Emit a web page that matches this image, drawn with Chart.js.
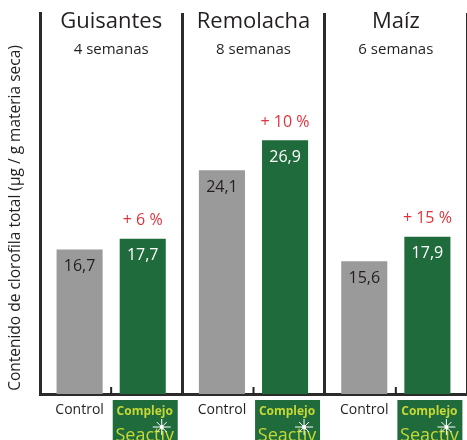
<!DOCTYPE html>
<html>
<head>
<meta charset="utf-8">
<script src="https://cdn.jsdelivr.net/npm/chart.js@4/dist/chart.umd.min.js"></script>
<style>
  html, body { margin: 0; padding: 0; background: #fff; }
  #wrap { width: 467px; height: 440px; }
</style>
</head>
<body>
<div id="wrap"><canvas id="chlorophyllChart"></canvas></div>
<script>
// datos del gráfico
const crops = ['Guisantes', 'Remolacha', 'Maíz'];
const weeks = ['4 semanas', '8 semanas', '6 semanas'];
const controlValues = [16.7, 24.1, 15.6];
const complejoValues = [17.7, 26.9, 17.9];
const gains = ['+ 6 %', '+ 10 %', '+ 15 %'];
const seriesNames = ['Control', 'Complejo Seactiv'];
const yTitle = 'Contenido de clorofila total (µg / g materia seca)';

const FONT = '"Open Sans", sans-serif';
const DARK = '#231f20';
const GREEN = '#1f6b3b';
const GREY = '#9a9a9b';

// textos, marcas y logotipo dibujados sobre las escalas de Chart.js
const decorations = {
  id: 'decorations',
  afterDatasetsDraw(chart) {
    const ctx = chart.ctx;
    const xs = chart.scales.x;
    const area = chart.chartArea;
    ctx.save();
    ctx.textAlign = 'center';
    ctx.textBaseline = 'middle';

    // nombres de cultivo y semanas
    crops.forEach((c, i) => {
      const cx = xs.getPixelForValue(i);
      ctx.fillStyle = DARK;
      ctx.font = '22px ' + FONT;
      ctx.fillText(c, cx, 22);
      ctx.font = '15px ' + FONT;
      ctx.fillText(weeks[i], cx, 50);
      // pequeña marca en el centro de cada grupo
      ctx.strokeStyle = DARK;
      ctx.lineWidth = 2;
      ctx.beginPath();
      ctx.moveTo(cx, area.bottom);
      ctx.lineTo(cx, area.bottom - 7);
      ctx.stroke();
    });

    // etiquetas de valor
    chart.data.datasets.forEach((ds, di) => {
      const meta = chart.getDatasetMeta(di);
      meta.data.forEach((bar, i) => {
        ctx.font = '16px ' + FONT;
        ctx.fillStyle = di === 0 ? DARK : '#ffffff';
        ctx.fillText(String(ds.data[i]).replace('.', ','), bar.x, bar.y + 17);
        if (di === 1) {
          ctx.fillStyle = '#e3323b';
          ctx.fillText(gains[i], bar.x, bar.y - 18);
        }
        // etiquetas inferiores
        if (di === 0) {
          ctx.fillStyle = DARK;
          ctx.font = '14px ' + FONT;
          ctx.fillText('Control', bar.x, 410);
        } else {
          const bx = bar.x + 2;
          ctx.fillStyle = GREEN;
          ctx.fillRect(bx - 32, 400, 65, 45);
          ctx.fillStyle = '#c6d835';
          ctx.font = 'bold 12px ' + FONT;
          ctx.fillText('Complejo', bx, 412);
          ctx.font = '18px ' + FONT;
          ctx.fillText('Seactiv', bx, 436);
          // destello
          const sx = bx + 17, sy = 427;
          ctx.strokeStyle = '#ffffff';
          ctx.lineWidth = 1;
          ctx.beginPath();
          ctx.moveTo(sx - 9, sy); ctx.lineTo(sx + 9, sy);
          ctx.moveTo(sx, sy - 8); ctx.lineTo(sx, sy + 8);
          ctx.moveTo(sx - 5, sy - 5); ctx.lineTo(sx + 5, sy + 5);
          ctx.moveTo(sx - 5, sy + 5); ctx.lineTo(sx + 5, sy - 5);
          ctx.stroke();
          ctx.fillStyle = '#ffffff';
          ctx.beginPath();
          ctx.arc(sx, sy, 2, 0, Math.PI * 2);
          ctx.fill();
        }
      });
    });

    // título del eje y
    ctx.translate(16, 218);
    ctx.rotate(-Math.PI / 2);
    ctx.fillStyle = DARK;
    ctx.font = '15.5px ' + FONT;
    ctx.fillText(yTitle, 0, 0);
    ctx.restore();
  }
};

new Chart(document.getElementById('chlorophyllChart'), {
  type: 'bar',
  data: {
    labels: crops,
    datasets: [
      { label: seriesNames[0], data: controlValues, backgroundColor: GREY },
      { label: seriesNames[1], data: complejoValues, backgroundColor: GREEN }
    ]
  },
  plugins: [decorations],
  options: {
    responsive: true,
    maintainAspectRatio: false,
    animation: false,
    categoryPercentage: 0.887,
    barPercentage: 0.73,
    layout: { padding: { left: 40, top: 13, right: 0, bottom: 46 } },
    plugins: { legend: { display: false }, tooltip: { enabled: false } },
    scales: {
      x: {
        offset: true,
        ticks: { display: false },
        grid: {
          offset: true,
          drawTicks: false,
          lineWidth: 3,
          color: ctx => (ctx.index === 0 || ctx.index === 3) ? 'rgba(0,0,0,0)' : '#2b2b2b'
        },
        border: { display: true, color: '#2b2b2b', width: 3 }
      },
      y: {
        min: 3.2,
        max: 38.8,
        ticks: { display: false },
        grid: { display: false, drawTicks: false },
        border: { display: true, color: '#2b2b2b', width: 3 }
      }
    }
  }
});
</script>
</body>
</html>
